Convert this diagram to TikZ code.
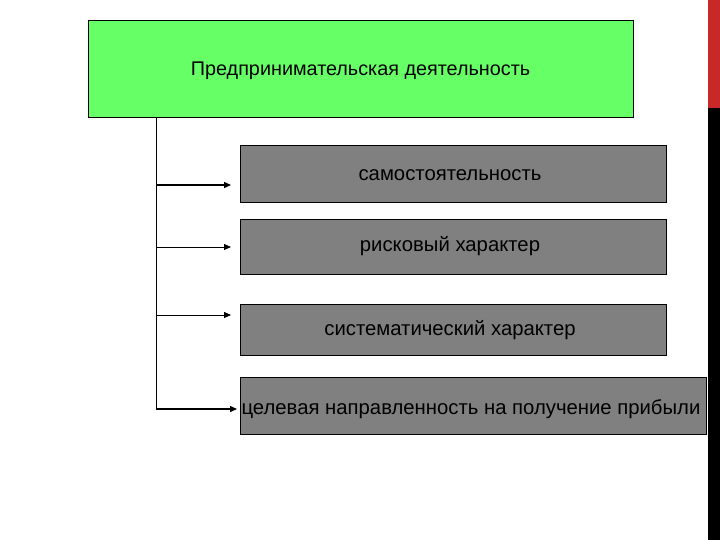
\documentclass[tikz,border=0pt]{standalone}
\usepackage{fontspec}
\setmainfont{Liberation Sans}
\usetikzlibrary{arrows.meta}
\definecolor{barred}{RGB}{200,40,40}
\definecolor{topgreen}{RGB}{102,255,102}
\begin{document}
\begin{tikzpicture}[x=1pt,y=-1pt,
  gbox/.style={draw=black,fill=black!50,inner sep=0pt},
  lbl/.style={font=\fontsize{20.3}{24}\selectfont,inner sep=0pt},
  arr/.style={-{Triangle[length=7pt,width=6pt]},line width=0.8pt}]
\useasboundingbox (0,0) rectangle (720,540);
\fill[white] (0,0) rectangle (720,540);
\fill[barred] (708,0) rectangle (720,108);
\fill[black] (708,108) rectangle (720,540);
\node[draw=black,fill=topgreen,minimum width=545pt,minimum height=97pt,anchor=north west,inner sep=0pt] (top) at (88,20) {};
\node[lbl,font=\fontsize{19.8}{24}\selectfont] (tt) at (360.5,71) {Предпринимательская деятельность};
\node[gbox,minimum width=426pt,minimum height=57pt,anchor=north west] (b1) at (240,145) {};
\node[lbl] (l1) at (450,175) {самостоятельность};
\node[gbox,minimum width=426pt,minimum height=55pt,anchor=north west] (b2) at (240,219) {};
\node[lbl] (l2) at (450,246) {рисковый характер};
\node[gbox,minimum width=426pt,minimum height=51pt,anchor=north west] (b3) at (240,304) {};
\node[lbl] (l3) at (450,330) {систематический характер};
\node[gbox,minimum width=466pt,minimum height=57pt,anchor=north west] (b4) at (240,377) {};
\node[lbl] (l4) at (471,409) {целевая направленность на получение прибыли};
\coordinate (t0) at (156,117);
\coordinate (t1) at (156,185);
\coordinate (t2) at (156,247);
\coordinate (t3) at (156,315);
\coordinate (t4) at (156,409);
\coordinate (e1) at (231,185);
\coordinate (e2) at (231,247);
\coordinate (e3) at (231,315);
\coordinate (e4) at (237,409);
\draw[line width=1pt] (t0) -- (t4);
\draw[arr,line width=1.4pt] (t1) -- (e1);
\draw[arr] (t2) -- (e2);
\draw[arr] (t3) -- (e3);
\draw[arr,line width=1.4pt] (t4) -- (e4);
\end{tikzpicture}
\end{document}
